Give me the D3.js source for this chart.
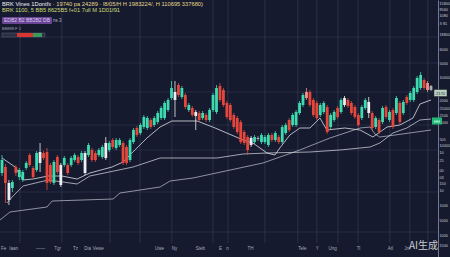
<!DOCTYPE html>
<html>
<head>
<meta charset="utf-8">
<script src="https://cdn.jsdelivr.net/npm/d3@7"></script>
<style>
  html, body { margin: 0; padding: 0; background: #161a2f; }
  svg { display: block; }
</style>
</head>
<body>
<div id="container"></div>
<script>
var width = 450;
var height = 257;
var axisX = 438; // right price axis line

// candles: [open, high, low, close]
var candles = [
    [1270,1450,1240,1400],[1330,1360,970,1170],[1170,1200,950,1000],[1120,1200,1080,1180],
    [1330,1350,1240,1270],[1230,1320,1200,1300],[1200,1300,1180,1280],[1320,1390,1300,1370],
    [1450,1470,1330,1350],[1320,1340,1210,1230],[1300,1490,1280,1470],[1370,1570,1280,1480],
    [1470,1490,1400,1420],[1480,1520,1100,1170],[1350,1370,1160,1180],[1170,1400,1150,1380],
    [1430,1450,1260,1280],[1350,1370,1130,1150],[1350,1440,1330,1420],[1350,1370,1250,1270],
    [1350,1440,1330,1420],[1400,1470,1380,1450],[1430,1450,1350,1370],[1400,1490,1380,1470],
    [1470,1490,1250,1270],[1450,1570,1430,1550],[1500,1520,1380,1400],[1470,1490,1380,1400],
    [1450,1520,1430,1500],[1430,1550,1410,1530],[1420,1630,1400,1570],[1500,1590,1480,1570],
    [1600,1620,1510,1530],[1520,1620,1500,1600],[1550,1620,1530,1600],[1570,1590,1350,1370],
    [1530,1550,1350,1370],[1400,1620,1380,1600],[1580,1720,1560,1700],[1720,1740,1630,1650],
    [1670,1770,1650,1750],[1730,1850,1710,1830],[1720,1840,1700,1820],[1800,1820,1710,1730],
    [1750,1840,1730,1820],[1780,1890,1760,1870],[1820,1940,1800,1920],[1820,1990,1800,1970],
    [1900,2020,1880,2000],[2020,2190,2000,2120],[2000,2190,1830,2080],[2150,2170,2030,2050],
    [2030,2140,2010,2120],[2050,2070,1910,1930],[1900,1970,1880,1950],[1920,1940,1830,1850],
    [1880,1900,1700,1840],[1870,1890,1780,1800],[1820,1890,1800,1870],[1850,1870,1780,1800],
    [1800,1920,1780,1900],[1900,2070,1880,2050],[1880,2150,1860,2120],[2140,2170,1980,2000],
    [2100,2120,1930,1950],[1970,1990,1810,1830],[1950,1970,1780,1800],[1850,1870,1710,1730],
    [1820,1840,1660,1680],[1780,1800,1560,1580],[1680,1700,1550,1570],[1630,1650,1450,1500],
    [1550,1640,1530,1620],[1580,1650,1560,1630],[1610,1640,1590,1620],[1580,1670,1560,1650],
    [1580,1650,1560,1630],[1550,1670,1530,1650],[1650,1670,1580,1600],[1600,1690,1580,1670],
    [1630,1650,1560,1580],[1580,1750,1560,1730],[1670,1770,1650,1750],[1800,1820,1680,1700],
    [1750,1870,1730,1850],[1750,1900,1730,1880],[1870,1990,1850,1970],[1950,2070,1930,2050],
    [2080,2120,2000,2020],[2080,2100,1930,1950],[2000,2020,1830,1850],[1970,1990,1800,1820],
    [1850,1970,1830,1950],[1880,1990,1860,1970],[1930,1950,1660,1680],[1730,1870,1710,1850],
    [1800,1900,1780,1880],[1920,1940,1810,1830],[1880,2020,1860,2000],[1950,2040,1930,2020],
    [2000,2020,1920,1940],[1970,1990,1850,1870],[1930,1950,1810,1830],[1850,1870,1730,1750],
    [1820,1950,1800,1930],[1920,2020,1900,2000],[1870,2030,1820,1980],[1870,1890,1700,1720],
    [1730,1840,1710,1820],[1800,1820,1660,1680],[1780,1940,1760,1920],[1930,1950,1810,1830],
    [1800,1900,1780,1880],[1900,1920,1710,1730],[1870,2040,1850,2020],[1970,1990,1760,1780],
    [1870,2000,1850,1980],[2030,2050,1950,1970],[2000,2090,1980,2070],[2000,2140,1980,2120],
    [2080,2240,2060,2220],[2120,2280,2100,2250],[2200,2220,2100,2120],[2170,2190,2080,2100],
    [2140,2150,2090,2100]
];
var whiteIdx = [2, 11, 17, 24, 30, 50, 56, 72, 99, 106];
var pinkIdx = [88, 123];
var greyIdx = [74, 124];

// moving-average lines: [candle index, price]
var lineFast = [
    [0,1420],[3.8,1330],[6.1,1200],[9,1210],[13.3,1240],[17.3,1240],[21.7,1210],[25.4,1270],
    [31.8,1330],[35,1380],[38.4,1500],[41.9,1620],[45.7,1730],[49.1,1790],[56.4,1790],[61.6,1720],
    [69.7,1600],[72.5,1570],[76.6,1470],[78.9,1450],[80.3,1520],[83.2,1650],[86.1,1720],[89,1720],
    [91.9,1820],[93.9,1700],[99.1,1720],[103.5,1700],[107.2,1630],[111.3,1730],[115,1750],
    [118.8,1820],[120.8,1960],[124,2000]
];
var lineMid = [
    [1.4,970],[3.2,1040],[6.1,1140],[13.3,1200],[17.6,1180],[21.7,1160],[25.4,1240],[37.9,1330],
    [45.7,1420],[62.1,1420],[69.7,1460],[76.6,1470],[89,1480],[97.7,1500],[106.4,1530],
    [109.2,1570],[113,1670],[117,1720],[120.8,1800],[124,1810]
];
var lineSlow = [
    [-0.6,800],[2.3,880],[13,930],[14.5,990],[32.1,1010],[34.1,1070],[45.7,1130],[48.6,1190],
    [55.2,1220],[75.4,1370],[86.1,1500],[94.8,1620],[103.5,1720],[106.4,1730],[107.8,1660],
    [109.2,1630],[113.6,1650],[124,1700]
];

// right axis ticks
var rightTickPrices = [2970,2910,2850,2770,2660,2510,2370,2230,2000,1920,1850,1780,
    1610,1550,1480,1400,1300,1230,1170,1100,950,800,650,550];
var rightTickLabels = ["15800","8560","1080","3·81","18800","6000","5000","10000","2000","25000","2500","2000",
    "505","10000","10","25","00","03","150","10","1000","5000","1000","1500"];

// bottom axis ticks (candle index)
var bottomTickIdx = [0.3,3.2,11,15.9,21.1,24.6,27.7,45.4,49.7,57.2,63,65,71.7,86.7,91,95.4,102.9,112.1,117];
var bottomTickLabels = ["Fe","Iaan","——","Tgr","Tz","Dia","Vewe","Uwe","Ny","Steb","E","n","TH","Tele","Y","Ung","Tl","Atl","Jm"];

// grid
var vGridIdx = [5.2,17.3,31.2,39.9,49.1,61,65.3,76,85.5,91,97.1,102.9,112.1,117.9,123.1];
var hGridPrices = [2630,2370,2080,1750,1500,1080,680];

var x = d3.scaleLinear().domain([0, candles.length - 1]).range([2, 431]);
var y = d3.scaleLinear().domain([430, 3000]).range([height, 0]);
var bodyW = 2.8;
var font = "Liberation Sans, Arial, sans-serif";

var svg = d3.select("#container").append("svg")
    .attr("width", width)
    .attr("height", height);

svg.append("rect").attr("width", width).attr("height", height).attr("fill", "#161a2f");

// grid lines
svg.append("g").selectAll("line").data(vGridIdx).enter().append("line")
    .attr("x1", function (d) { return x(d); })
    .attr("x2", function (d) { return x(d); })
    .attr("y1", 0).attr("y2", 243)
    .attr("stroke", "#3e4566").attr("stroke-width", 0.7).attr("opacity", 0.75);
svg.append("g").selectAll("line").data(hGridPrices).enter().append("line")
    .attr("x1", 0).attr("x2", axisX)
    .attr("y1", function (d) { return y(d); })
    .attr("y2", function (d) { return y(d); })
    .attr("stroke", "#3e4566").attr("stroke-width", 0.7).attr("opacity", 0.6);

// MA lines
var line = d3.line()
    .x(function (d) { return x(d[0]); })
    .y(function (d) { return y(d[1]); });
svg.append("path").datum(lineSlow).attr("d", line)
    .attr("fill", "none").attr("stroke", "#c9ccd6").attr("stroke-width", 0.9).attr("opacity", 0.75);
svg.append("path").datum(lineMid).attr("d", line)
    .attr("fill", "none").attr("stroke", "#d8dae2").attr("stroke-width", 0.9).attr("opacity", 0.8);
svg.append("path").datum(lineFast).attr("d", line)
    .attr("fill", "none").attr("stroke", "#e6e8ee").attr("stroke-width", 0.9).attr("opacity", 0.85);

function candleColor(d, i) {
    if (whiteIdx.indexOf(i) >= 0) return "#eceef2";
    if (pinkIdx.indexOf(i) >= 0) return "#f2908a";
    if (greyIdx.indexOf(i) >= 0) return "#a9b0ba";
    return d[3] >= d[0] ? "#3ddbb0" : "#e5473c";
}

var g = svg.append("g");
g.selectAll("line").data(candles).enter().append("line")
    .attr("x1", function (d, i) { return x(i); })
    .attr("x2", function (d, i) { return x(i); })
    .attr("y1", function (d) { return y(d[1]); })
    .attr("y2", function (d) { return y(d[2]); })
    .attr("stroke", candleColor)
    .attr("stroke-width", 0.8);
g.selectAll("rect").data(candles).enter().append("rect")
    .attr("x", function (d, i) { return x(i) - bodyW / 2; })
    .attr("y", function (d) { return y(Math.max(d[0], d[3])); })
    .attr("width", bodyW)
    .attr("height", function (d) { return Math.max(1, Math.abs(y(d[0]) - y(d[3]))); })
    .attr("fill", candleColor);

// right axis
var rightAxis = d3.axisRight(y)
    .tickValues(rightTickPrices)
    .tickFormat(function (d, i) { return rightTickLabels[i]; })
    .tickSize(0)
    .tickPadding(1.5);
var ra = svg.append("g").attr("transform", "translate(" + axisX + ",0)").call(rightAxis);
ra.select(".domain").attr("stroke", "#8a90a8").attr("stroke-width", 0.8);
ra.selectAll("text").attr("fill", "#c5c8d4").attr("font-size", "3.8px").attr("font-family", font);

// price tags
svg.append("rect").attr("x", 434).attr("y", y(2070) - 3.5).attr("width", 13).attr("height", 7)
    .attr("fill", "#b9cfc4").attr("stroke", "#1d2a24").attr("stroke-width", 0.5);
svg.append("text").attr("x", 440.5).attr("y", y(2070) + 1.5).attr("text-anchor", "middle")
    .attr("font-size", "4px").attr("font-family", font)
    .attr("fill", "#1c2a22").text("2170");
svg.append("rect").attr("x", 432).attr("y", y(1790) - 3.5).attr("width", 10).attr("height", 7)
    .attr("fill", "#22b877");
svg.append("text").attr("x", 437).attr("y", y(1790) + 1.5).attr("text-anchor", "middle")
    .attr("font-size", "4px").attr("font-family", font)
    .attr("fill", "#e8fff2").text("HH");

// bottom axis
var bottomAxis = d3.axisBottom(x)
    .tickValues(bottomTickIdx)
    .tickFormat(function (d, i) { return bottomTickLabels[i]; })
    .tickSize(0)
    .tickPadding(0);
var ba = svg.append("g").attr("transform", "translate(0,247)").call(bottomAxis);
ba.select(".domain").remove();
ba.selectAll("text").attr("fill", "#a7abba").attr("font-size", "4.5px").attr("font-family", font);

// legend header
var l1 = svg.append("text").attr("x", 2).attr("y", 6).attr("font-size", "5px").attr("font-family", font)
    .attr("textLength", 201).attr("lengthAdjust", "spacingAndGlyphs");
l1.append("tspan").attr("fill", "#eef0f4").text("BRK Vines 1Dontfx ");
l1.append("tspan").attr("fill", "#e6d88a").text("· 19740 pa 24289 · l8/05/H H 1983224/, H 110695 337680)");
svg.append("text").attr("x", 2).attr("y", 12).attr("font-size", "5px").attr("font-family", font)
    .attr("textLength", 118).attr("lengthAdjust", "spacingAndGlyphs")
    .attr("fill", "#cfdc72").text("BRK 1100, 5 BB5 8625B5 f+01 7ull M 1D01f91");

svg.append("rect").attr("x", 2).attr("y", 17).attr("width", 50).attr("height", 7).attr("rx", 1)
    .attr("fill", "#6a4596");
svg.append("text").attr("x", 4).attr("y", 22).attr("font-size", "4.5px").attr("font-family", font)
    .attr("textLength", 46).attr("lengthAdjust", "spacingAndGlyphs")
    .attr("fill", "#d9c8f0").text("EDB2 B2 BB2B2 DB");
svg.append("text").attr("x", 53).attr("y", 22).attr("font-size", "4.5px").attr("font-family", font)
    .attr("fill", "#b9bccb").text("ns 3");
svg.append("text").attr("x", 2).attr("y", 30).attr("font-size", "4px").attr("font-family", font)
    .attr("fill", "#9ea2b2").text("BB888 F 1");

svg.append("rect").attr("x", 2).attr("y", 33).attr("width", 43).attr("height", 4)
    .attr("fill", "#2a2f44").attr("stroke", "#5a6078").attr("stroke-width", 0.5);
svg.append("rect").attr("x", 17).attr("y", 33).attr("width", 16).attr("height", 4).attr("fill", "#d8352e");
svg.append("rect").attr("x", 33).attr("y", 33).attr("width", 9).attr("height", 4).attr("fill", "#3c9a5a");

// watermark
svg.append("text").attr("x", 409).attr("y", 249)
    .attr("font-size", "10px").attr("font-family", "Noto Sans CJK SC, sans-serif")
    .attr("fill", "rgba(255,255,255,0.78)").text("AI生成");
</script>
</body>
</html>
